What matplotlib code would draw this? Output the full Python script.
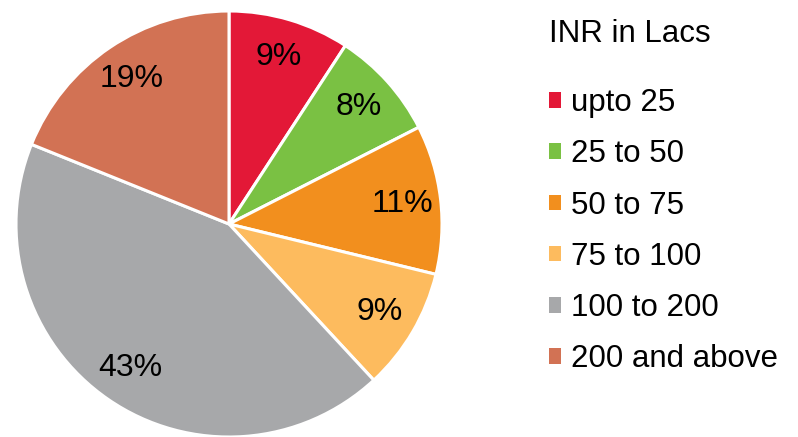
import matplotlib
matplotlib.use("Agg")
import matplotlib.pyplot as plt
from matplotlib.patches import Patch

# data
categories = ["upto 25", "25 to 50", "50 to 75", "75 to 100", "100 to 200", "200 and above"]
shares = [9.2, 8.3, 11.3, 9.3, 43.0, 18.9]
colors = ["#E31837", "#7AC143", "#F28F1E", "#FDBB5E", "#A7A8AA", "#D27254"]
legend_title = "INR in Lacs"

plt.rcParams["font.family"] = ["Liberation Sans", "DejaVu Sans"]

fig = plt.figure(figsize=(7.98, 4.37), dpi=100)
ax = fig.add_axes([16 / 798, 0.0, 426 / 798, 426 / 437])

wedges, texts, autotexts = ax.pie(
    shares,
    colors=colors,
    startangle=90,
    counterclock=False,
    radius=1.0,
    autopct=lambda p: f"{p:.0f}%",
    pctdistance=0.82,
    wedgeprops=dict(edgecolor="white", linewidth=2.2),
    textprops=dict(fontsize=23, color="black"),
)
ax.set_xlim(-1, 1)
ax.set_ylim(-1, 1)
ax.set_aspect("equal")
ax.axis("off")

handles = [Patch(facecolor=c, edgecolor="none") for c in colors]
leg = fig.legend(
    handles,
    categories,
    title=legend_title,
    loc="upper left",
    bbox_to_anchor=(521 / 798, 1.0 + 9 / 437),
    frameon=False,
    fontsize=22.5,
    title_fontsize=22.5,
    handlelength=0.38,
    handleheight=0.38,
    handletextpad=0.32,
    labelspacing=0.68,
    alignment="left",
)
leg._legend_box.sep = 28

plt.savefig("out.png", dpi=100)
plt.close()
